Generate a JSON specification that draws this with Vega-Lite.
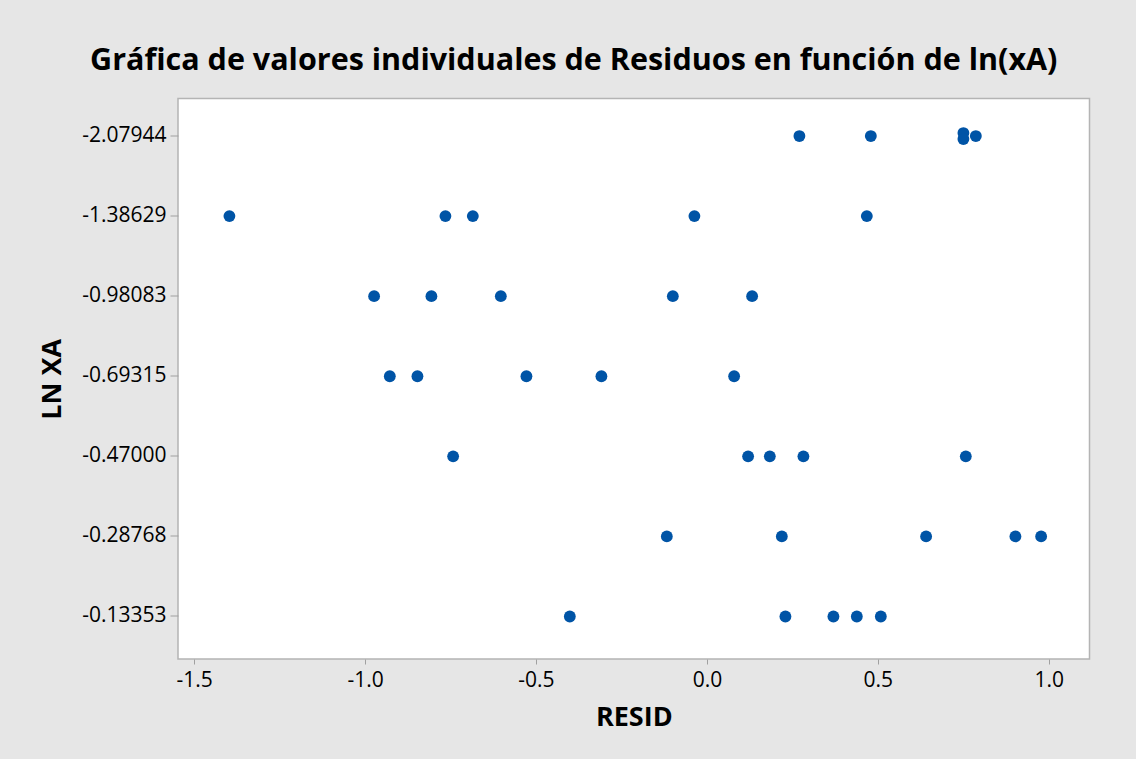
{
  "$schema": "https://vega.github.io/schema/vega-lite/v6.json",
  "width": 911.5,
  "height": 560.5,
  "autosize": {"type": "none"},
  "padding": {"left": 178, "top": 98.5, "right": 46.5, "bottom": 100},
  "background": "#e6e6e6",
  "title": {
    "text": "Gráfica de valores individuales de Residuos en función de ln(xA)",
    "font": "Open Sans",
    "fontSize": 30.5,
    "fontWeight": "bold",
    "color": "#000000",
    "anchor": "middle",
    "dx": -60,
    "dy": 30,
    "baseline": "alphabetic",
    "offset": 28
  },
  "config": {
    "locale": {"number": {"decimal": ".", "thousands": ",", "grouping": [3], "currency": ["$", ""], "minus": "-"}},
    "view": {"fill": "#ffffff", "stroke": "#b4b4b4", "strokeWidth": 1.5},
    "axis": {
      "labelFont": "Open Sans",
      "labelFontSize": 21,
      "labelColor": "#000000",
      "titleFont": "Open Sans",
      "titleFontSize": 27,
      "titleFontWeight": "bold",
      "titleColor": "#000000",
      "tickColor": "#a0a0a0",
      "domain": false,
      "grid": false
    }
  },
  "data": {
    "values": [
      {"lnxa": "-2.07944", "resid": 0.2705, "tie": "0"},
      {"lnxa": "-2.07944", "resid": 0.4794, "tie": "0"},
      {"lnxa": "-2.07944", "resid": 0.7502, "tie": "-1"},
      {"lnxa": "-2.07944", "resid": 0.7502, "tie": "1"},
      {"lnxa": "-2.07944", "resid": 0.7865, "tie": "0"},
      {"lnxa": "-1.38629", "resid": -1.3966, "tie": "0"},
      {"lnxa": "-1.38629", "resid": -0.7648, "tie": "0"},
      {"lnxa": "-1.38629", "resid": -0.6847, "tie": "0"},
      {"lnxa": "-1.38629", "resid": -0.0366, "tie": "0"},
      {"lnxa": "-1.38629", "resid": 0.4677, "tie": "0"},
      {"lnxa": "-0.98083", "resid": -0.9734, "tie": "0"},
      {"lnxa": "-0.98083", "resid": -0.8058, "tie": "0"},
      {"lnxa": "-0.98083", "resid": -0.6028, "tie": "0"},
      {"lnxa": "-0.98083", "resid": -0.0997, "tie": "0"},
      {"lnxa": "-0.98083", "resid": 0.1322, "tie": "0"},
      {"lnxa": "-0.69315", "resid": -0.9275, "tie": "0"},
      {"lnxa": "-0.69315", "resid": -0.8467, "tie": "0"},
      {"lnxa": "-0.69315", "resid": -0.5279, "tie": "0"},
      {"lnxa": "-0.69315", "resid": -0.3086, "tie": "0"},
      {"lnxa": "-0.69315", "resid": 0.0796, "tie": "0"},
      {"lnxa": "-0.47000", "resid": -0.7423, "tie": "0"},
      {"lnxa": "-0.47000", "resid": 0.1205, "tie": "0"},
      {"lnxa": "-0.47000", "resid": 0.1840, "tie": "0"},
      {"lnxa": "-0.47000", "resid": 0.2822, "tie": "0"},
      {"lnxa": "-0.47000", "resid": 0.7572, "tie": "0"},
      {"lnxa": "-0.28768", "resid": -0.1173, "tie": "0"},
      {"lnxa": "-0.28768", "resid": 0.2191, "tie": "0"},
      {"lnxa": "-0.28768", "resid": 0.6411, "tie": "0"},
      {"lnxa": "-0.28768", "resid": 0.9023, "tie": "0"},
      {"lnxa": "-0.28768", "resid": 0.9775, "tie": "0"},
      {"lnxa": "-0.13353", "resid": -0.4010, "tie": "0"},
      {"lnxa": "-0.13353", "resid": 0.2296, "tie": "0"},
      {"lnxa": "-0.13353", "resid": 0.3700, "tie": "0"},
      {"lnxa": "-0.13353", "resid": 0.4384, "tie": "0"},
      {"lnxa": "-0.13353", "resid": 0.5086, "tie": "0"}
    ]
  },
  "mark": {"type": "circle", "size": 140, "color": "#0054a6", "opacity": 1},
  "encoding": {
    "x": {
      "field": "resid",
      "type": "quantitative",
      "title": "RESID",
      "scale": {"domain": [-1.547, 1.119], "nice": false, "zero": false},
      "axis": {"values": [-1.5, -1.0, -0.5, 0, 0.5, 1.0], "format": ".1f", "tickSize": 5, "labelPadding": 5, "titlePadding": 14}
    },
    "y": {
      "field": "lnxa",
      "type": "ordinal",
      "title": "LN XA",
      "scale": {
        "type": "band",
        "domain": ["-2.07944", "-1.38629", "-0.98083", "-0.69315", "-0.47000", "-0.28768", "-0.13353"],
        "paddingInner": 0.1,
        "paddingOuter": 0.05,
        "align": 0.18
      },
      "axis": {"tickSize": 8, "labelPadding": 4, "titlePadding": 15}
    },
    "yOffset": {
      "field": "tie",
      "type": "nominal",
      "scale": {"type": "point", "domain": ["-1", "0", "1"], "range": [31.6, 40.6]}
    }
  }
}
